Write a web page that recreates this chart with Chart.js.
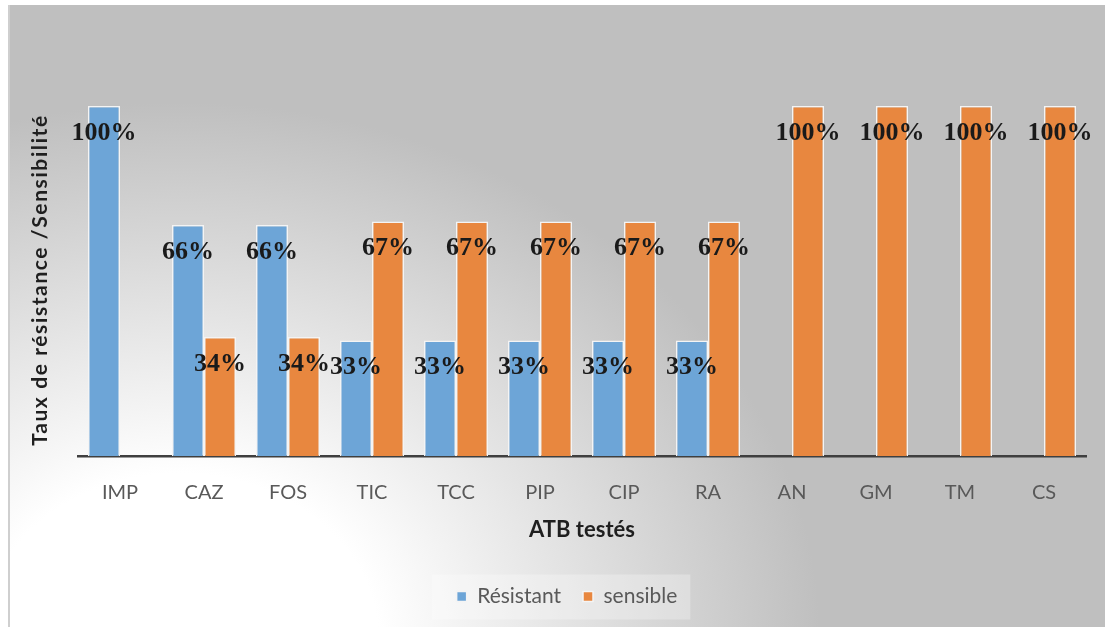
<!DOCTYPE html>
<html>
<head>
<meta charset="utf-8">
<script src="https://cdn.jsdelivr.net/npm/chart.js@4/dist/chart.umd.min.js"></script>
<style>
  html, body { margin: 0; padding: 0; background: #ffffff; }
  #wrap { position: relative; width: 1105px; height: 627px; }
</style>
</head>
<body>
<div id="wrap"><canvas id="c" width="1105" height="627"></canvas></div>
<script>
// Antibiotics tested
const categories = ['IMP', 'CAZ', 'FOS', 'TIC', 'TCC', 'PIP', 'CIP', 'RA', 'AN', 'GM', 'TM', 'CS'];
// Percentages per antibiotic (null = no bar)
const resistant = [100, 66, 66, 33, 33, 33, 33, 33, null, null, null, null];
const sensitive = [null, 34, 34, 67, 67, 67, 67, 67, 100, 100, 100, 100];
const seriesNames = ['Résistant', 'sensible'];
const xTitle = 'ATB testés';
const yTitle = 'Taux de résistance /Sensibilité';

const BLUE = '#6da5d7';
const ORANGE = '#e8873f';

// Panel background: soft radial fade, white toward the lower left
const backgroundPlugin = {
  id: 'panelBackground',
  beforeDraw(chart) {
    const ctx = chart.ctx;
    const W = chart.width, H = chart.height;
    ctx.save();
    ctx.fillStyle = '#ffffff';
    ctx.fillRect(0, 0, W, H);
    ctx.beginPath();
    ctx.rect(8, 5, W - 8, H - 5);
    ctx.clip();
    ctx.translate(180, 640);
    ctx.scale(1, 0.84);
    const g = ctx.createRadialGradient(0, 0, 0, 0, 0, 640);
    g.addColorStop(0, '#ffffff');
    g.addColorStop(0.31, '#ffffff');
    g.addColorStop(1, '#bfbfbf');
    ctx.fillStyle = g;
    ctx.fillRect(-400, -900, 1700, 1200);
    ctx.restore();
    // thin frame edge on the left
    ctx.save();
    ctx.fillStyle = '#cfcfcf';
    ctx.fillRect(8, 5, 2, H - 5);
    ctx.restore();

    // legend panel
    const lg = chart.legend;
    if (lg && lg.legendHitBoxes && lg.legendHitBoxes.length) {
      const boxes = lg.legendHitBoxes;
      const first = boxes[0], last = boxes[boxes.length - 1];
      const cy = first.top + first.height / 2;
      ctx.save();
      ctx.fillStyle = 'rgba(255,255,255,0.28)';
      ctx.fillRect(first.left - 25, cy - 22, (last.left + last.width + 13) - (first.left - 25), 45);
      ctx.restore();
    }
  }
};

// Value labels printed just under the top of each bar
const valueLabelPlugin = {
  id: 'valueLabels',
  afterDatasetsDraw(chart) {
    const ctx = chart.ctx;
    ctx.save();
    ctx.font = 'bold 26px "Liberation Serif", "Times New Roman", serif';
    ctx.fillStyle = '#1a1a1a';
    ctx.textAlign = 'center';
    ctx.textBaseline = 'middle';
    chart.data.datasets.forEach((ds, di) => {
      const meta = chart.getDatasetMeta(di);
      meta.data.forEach((el, i) => {
        const v = ds.data[i];
        if (v === null || v === undefined) return;
        ctx.fillText(v + '%', el.x, el.y + 27);
      });
    });
    ctx.restore();
  }
};

// Vertical axis title
const yTitlePlugin = {
  id: 'yTitle',
  afterDraw(chart) {
    const ctx = chart.ctx;
    ctx.save();
    ctx.translate(40, 280);
    ctx.rotate(-Math.PI / 2);
    ctx.font = 'bold 21px Lato, "Noto Sans", sans-serif';
    if ('letterSpacing' in ctx) ctx.letterSpacing = '1.6px';
    ctx.fillStyle = '#1f1f1f';
    ctx.textAlign = 'center';
    ctx.textBaseline = 'middle';
    ctx.fillText(yTitle, 0, 0);
    ctx.restore();
  }
};

new Chart(document.getElementById('c'), {
  type: 'bar',
  data: {
    labels: categories,
    datasets: [
      {
        label: seriesNames[0],
        data: resistant,
        backgroundColor: BLUE,
        borderColor: '#f4f4f4',
        borderWidth: 1.5,
        categoryPercentage: 0.762,
        barPercentage: 1.0
      },
      {
        label: seriesNames[1],
        data: sensitive,
        backgroundColor: ORANGE,
        borderColor: '#f4f4f4',
        borderWidth: 1.5,
        categoryPercentage: 0.762,
        barPercentage: 1.0
      }
    ]
  },
  options: {
    responsive: false,
    animation: false,
    layout: { padding: { left: 48, right: 19, top: 36, bottom: 10 } },
    plugins: {
      tooltip: { enabled: false },
      legend: {
        position: 'bottom',
        labels: {
          boxWidth: 10,
          boxHeight: 10,
          padding: 22,
          color: '#595959',
          font: { family: 'Lato, "Noto Sans", sans-serif', size: 21 }
        }
      }
    },
    scales: {
      x: {
        grid: { display: false, drawTicks: false },
        border: { display: true, color: '#3f3f3f', width: 2.5 },
        ticks: {
          color: '#595959',
          padding: 25,
          font: { family: 'Lato, "Noto Sans", sans-serif', size: 20 }
        },
        title: {
          display: true,
          text: xTitle,
          color: '#1f1f1f',
          font: { family: 'Lato, "Noto Sans", sans-serif', size: 22, weight: 'bold' },
          padding: { top: 0, bottom: 21 }
        },
        afterFit(scale) { scale.height = 108; }
      },
      y: {
        min: 0,
        max: 120,
        grid: { display: false, drawTicks: false },
        border: { display: false },
        ticks: { display: false },
        afterFit(scale) { scale.width = 30; }
      }
    }
  },
  plugins: [backgroundPlugin, valueLabelPlugin, yTitlePlugin]
});
</script>
</body>
</html>
